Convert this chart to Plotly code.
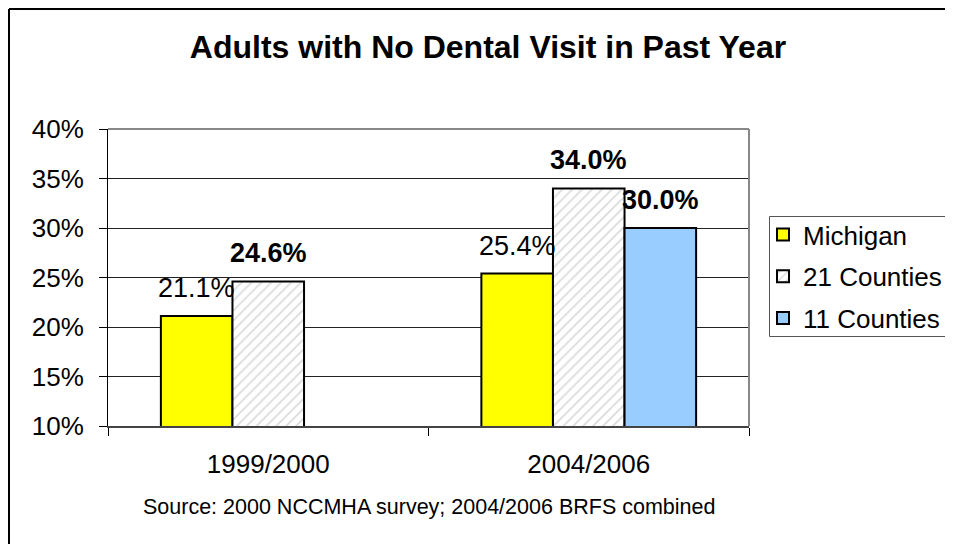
import plotly.graph_objects as go

categories = ["1999/2000", "2004/2006"]
michigan = [0.211, 0.254]
counties21 = [0.246, 0.340]
counties11 = [None, 0.300]
series_names = ["Michigan", "21 Counties", "11 Counties"]
y_ticks = [0.10, 0.15, 0.20, 0.25, 0.30, 0.35, 0.40]
title_text = "Adults with No Dental Visit in Past Year"
source_text = "Source: 2000 NCCMHA survey; 2004/2006 BRFS combined"

FONT = "Liberation Sans, Arial, sans-serif"

# page body has an 8px margin, so the figure origin sits at (8, 8) in the window
OFF = 8
L, T = 108 - OFF, 129 - OFF
W, H = 641, 297
fw, fh = 953 - OFF, 544 - OFF
BARGAP = 0.33

def px_x(p):
    return (p - OFF - L) / W

def px_y(p):
    return (T + H - (p - OFF)) / H

series = [
    (series_names[0], michigan, dict(color="#FFFF00", line=dict(color="black", width=2)), False),
    (series_names[1], counties21, dict(color="white", line=dict(color="black", width=2),
                                       pattern=dict(shape="/", fgcolor="#b8b8b8", bgcolor="white",
                                                    size=7, solidity=0.25)), True),
    (series_names[2], counties11, dict(color="#99CCFF", line=dict(color="black", width=2)), True),
]

fig = go.Figure()
for i, (name, vals, marker, bold) in enumerate(series):
    fig.add_trace(go.Bar(x=categories, y=vals, name=name, marker=marker,
                         legendgroup=name))

# data labels placed at each bar's value through the axes
bar_w = (W / len(categories)) * (1 - BARGAP) / len(series)
annotations = []
for i, (name, vals, marker, bold) in enumerate(series):
    for cat, v in zip(categories, vals):
        if v is None:
            continue
        txt = f"{v:.1%}"
        if bold:
            txt = "<b>" + txt + "</b>"
        annotations.append(dict(
            x=cat, y=v, xref="x", yref="y", text=txt, showarrow=False,
            xanchor="center", yanchor="bottom",
            xshift=(i - (len(series) - 1) / 2) * bar_w, yshift=11,
            font=dict(family=FONT, size=27, color="black")))

annotations.append(dict(text=source_text, x=0.5, y=px_y(507), xref="paper",
                        yref="paper", showarrow=False, xanchor="center",
                        yanchor="middle",
                        font=dict(family=FONT, size=21.5, color="black")))

fig.update_layout(
    width=fw, height=fh,
    margin=dict(l=L, r=fw - L - W, t=T, b=fh - T - H, pad=0, autoexpand=False),
    paper_bgcolor="white", plot_bgcolor="white",
    barmode="group", bargap=BARGAP, bargroupgap=0,
    font=dict(family=FONT, color="black"),
    title=dict(text="<b>" + title_text + "</b>", x=(488 - OFF) / fw, xref="container",
               xanchor="center", y=1 - (47 - OFF) / fh, yanchor="middle",
               font=dict(family=FONT, size=32, color="black")),
    showlegend=True,
    legend=dict(x=px_x(763), y=px_y(211), xanchor="left", yanchor="top",
                borderwidth=0, bgcolor="rgba(0,0,0,0)",
                font=dict(family=FONT, size=26, color="black"),
                traceorder="grouped", tracegroupgap=5,
                itemwidth=30),
    yaxis=dict(range=[0.10, 0.40], tickvals=y_ticks, tickformat=".0%",
               showgrid=True, gridcolor="#222222", gridwidth=1,
               showline=True, linecolor="black", linewidth=1,
               ticks="outside", ticklen=8, tickcolor="black",
               ticklabelstandoff=10,
               tickfont=dict(family=FONT, size=26, color="black"),
               zeroline=False),
    xaxis=dict(showline=True, linecolor="#444444", linewidth=2,
               ticks="outside", ticklen=8, tickcolor="black",
               tickson="boundaries", ticklabelstandoff=14,
               tickfont=dict(family=FONT, size=26, color="black"),
               showgrid=False),
    annotations=annotations,
    shapes=[
        # legend frame (runs off the right edge, as in the reference)
        dict(type="rect", xref="paper", yref="paper", x0=px_x(769.5), x1=px_x(1000),
             y0=px_y(336.5), y1=px_y(216.5), line=dict(color="#555555", width=1),
             fillcolor="white", layer="above"),
        dict(type="line", xref="paper", yref="paper", x0=0, x1=1, y0=1, y1=1,
             line=dict(color="#888888", width=2)),
        dict(type="line", xref="paper", yref="paper", x0=1, x1=1, y0=0, y1=1,
             line=dict(color="#888888", width=2)),
        dict(type="line", xref="paper", yref="paper", x0=px_x(9), x1=px_x(9),
             y0=px_y(600), y1=px_y(9), line=dict(color="black", width=2)),
        dict(type="line", xref="paper", yref="paper", x0=px_x(9), x1=px_x(1000),
             y0=px_y(9), y1=px_y(9), line=dict(color="black", width=2)),
    ],
)

fig.write_html("out.html")
